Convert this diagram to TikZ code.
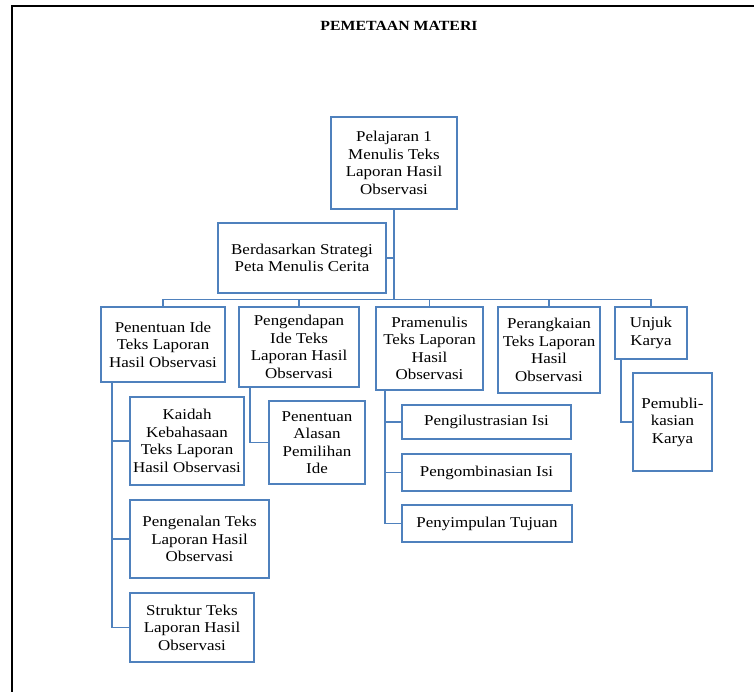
\documentclass[tikz,border=0pt]{standalone}
\usepackage{fontspec}
\setmainfont{Liberation Serif}[FakeStretch=1.13]
\definecolor{boxblue}{RGB}{79,129,189}
\begin{document}
\begin{tikzpicture}[x=1pt,y=-1pt,
  box/.style={draw=boxblue,line width=1.6pt,inner sep=0pt,align=center,
    font=\fontsize{15}{17.5}\selectfont,text=black},
  link/.style={draw=boxblue,line width=1.7pt}]
\useasboundingbox (0,0) rectangle (754,692);
\draw[line width=1.6pt,black] (12,692) -- (12,6) -- (754,6);
\node[font=\bfseries\fontsize{14}{16}\selectfont] (title) at (399,26) {PEMETAAN MATERI};

\node[box,minimum width=126pt,minimum height=92pt] (top) at (394,163) {Pelajaran 1\\Menulis Teks\\Laporan Hasil\\Observasi};
\node[box,minimum width=168pt,minimum height=70pt] (strat) at (302,258) {Berdasarkan Strategi\\Peta Menulis Cerita};

\node[box,minimum width=124pt,minimum height=75pt] (c1) at (163,344.5) {Penentuan Ide\\Teks Laporan\\Hasil Observasi};
\node[box,minimum width=120pt,minimum height=80pt] (c2) at (299,347) {Pengendapan\\Ide Teks\\Laporan Hasil\\Observasi};
\node[box,minimum width=107pt,minimum height=83pt] (c3) at (429.5,348.5) {Pramenulis\\Teks Laporan\\Hasil\\Observasi};
\node[box,minimum width=102pt,minimum height=86pt] (c4) at (549,350) {Perangkaian\\Teks Laporan\\Hasil\\Observasi};
\node[box,minimum width=72pt,minimum height=52pt] (c5) at (651,333) {Unjuk\\Karya};

\node[box,minimum width=114pt,minimum height=88pt] (kaidah) at (187,441) {Kaidah\\Kebahasaan\\Teks Laporan\\Hasil Observasi};
\node[box,minimum width=139pt,minimum height=78pt] (kenal) at (199.5,539) {Pengenalan Teks\\Laporan Hasil\\Observasi};
\node[box,minimum width=124pt,minimum height=69pt] (struk) at (192,627.5) {Struktur Teks\\Laporan Hasil\\Observasi};

\node[box,minimum width=96pt,minimum height=83pt] (alasan) at (317,442.5) {Penentuan\\Alasan\\Pemilihan\\Ide};

\node[box,minimum width=169pt,minimum height=34pt] (ilus) at (486.5,422) {Pengilustrasian Isi};
\node[box,minimum width=169pt,minimum height=37pt] (komb) at (486.5,472.5) {Pengombinasian Isi};
\node[box,minimum width=170pt,minimum height=37pt] (simp) at (487,523.5) {Penyimpulan Tujuan};

\node[box,minimum width=79pt,minimum height=98pt] (pemub) at (672.5,422) {Pemubli-\\kasian\\Karya};

\coordinate (bus) at (394,299.5);
\draw[link] (top.south) -- (bus);
\draw[link] (strat.east) -- (strat.east -| top.south);
\draw[link] (c1.north) -- (c1.north |- bus) -- (c5.north |- bus) -- (c5.north);
\draw[link] (c2.north) -- (c2.north |- bus);
\draw[link] (c3.north) -- (c3.north |- bus);
\draw[link] (c4.north) -- (c4.north |- bus);

\draw[link] ([xshift=12pt]c1.south west) |- (kaidah.west);
\draw[link] ([xshift=12pt]c1.south west) |- (kenal.west);
\draw[link] ([xshift=12pt]c1.south west) |- (struk.west);
\draw[link] ([xshift=12pt]c2.south west) |- (alasan.west);
\draw[link] ([xshift=10pt]c3.south west) |- (ilus.west);
\draw[link] ([xshift=10pt]c3.south west) |- (komb.west);
\draw[link] ([xshift=10pt]c3.south west) |- (simp.west);
\draw[link] ([xshift=7pt]c5.south west) |- (pemub.west);
\end{tikzpicture}
\end{document}
